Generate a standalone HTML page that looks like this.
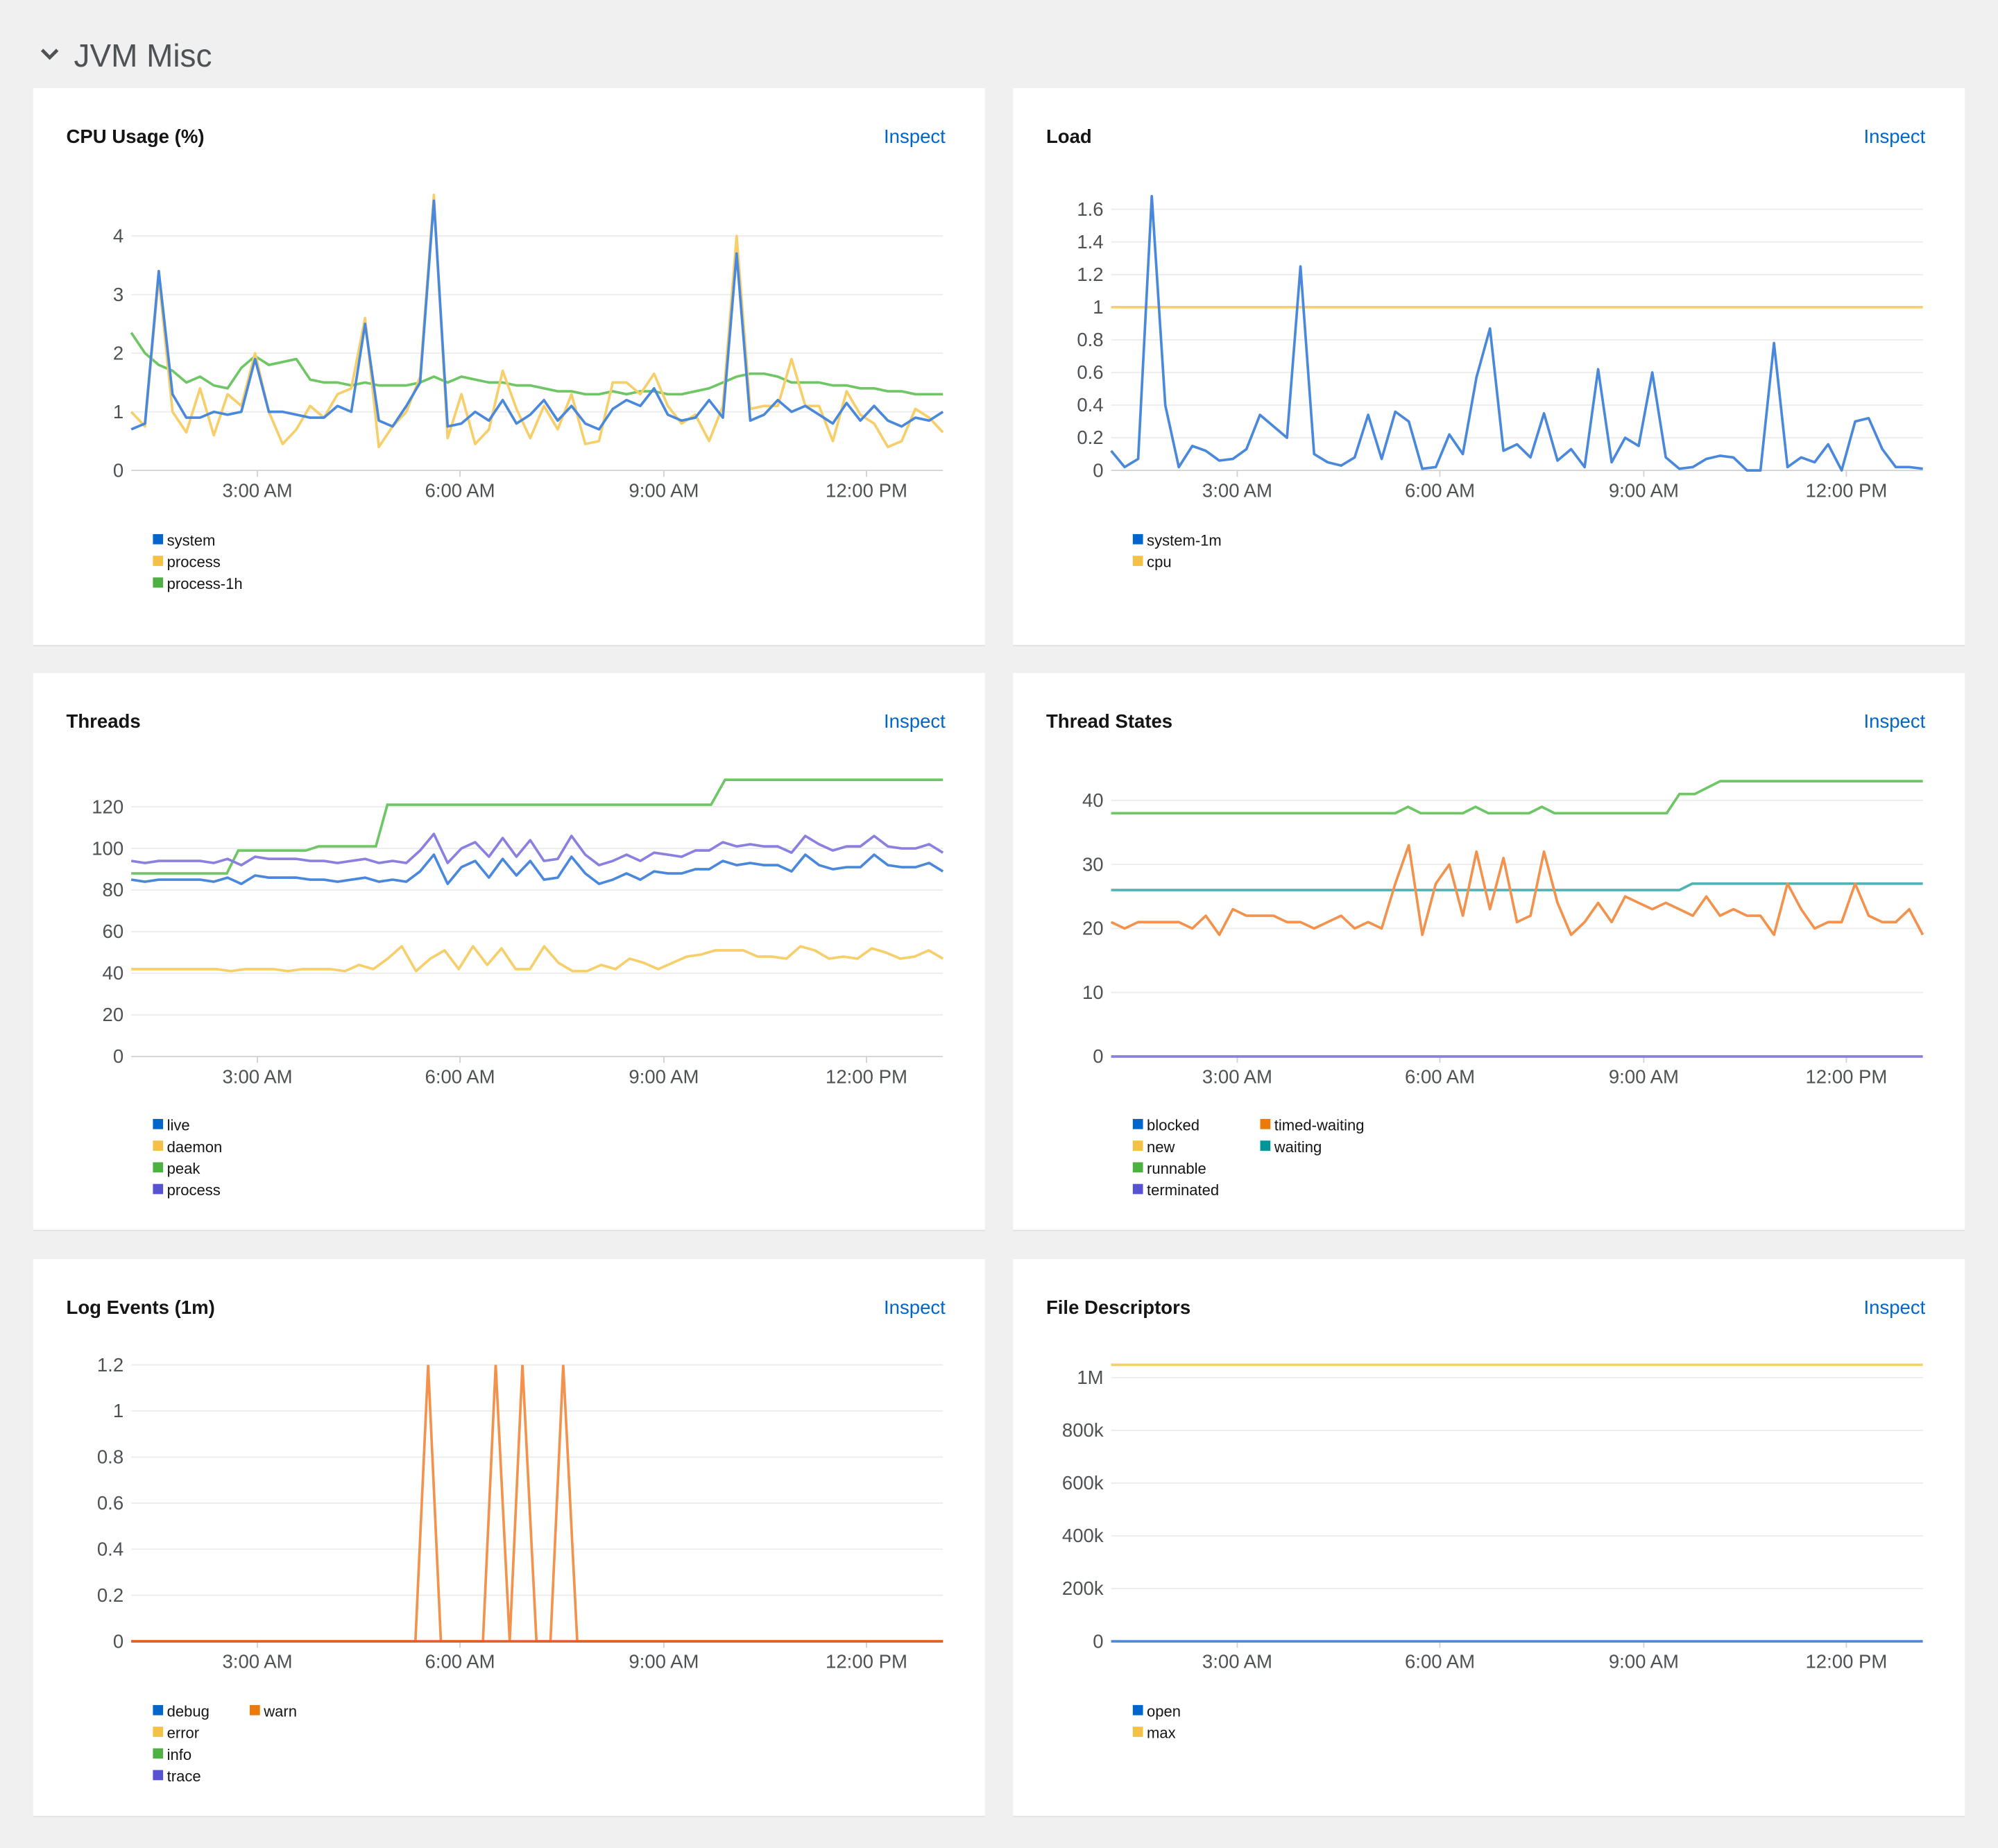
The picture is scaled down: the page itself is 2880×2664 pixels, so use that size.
<!DOCTYPE html>
<html><head><meta charset="utf-8">
<style>
html,body{margin:0;padding:0;background:#f0f0f0;}
svg{display:block;}
text{font-family:"Liberation Sans",sans-serif;}
</style></head>
<body>
<svg id="s" width="2880" height="2664" viewBox="0 0 1568 1450" xmlns="http://www.w3.org/2000/svg">
<rect width="1568" height="1450" fill="#f0f0f0"/>
<path d="M33 39 L39 45 L45 39" stroke="#4f5255" stroke-width="2.6" fill="none"/>
<text x="58" y="52" font-size="25" fill="#4f5255">JVM Misc</text>
<g id="g"></g>
</svg>
<script>
var g=document.getElementById('g'),h='';
function card(x,y,title){
 h+='<rect x="'+(x)+'" y="'+(y+1)+'" width="747" height="437" fill="#e0e0e0"/>';
 h+='<rect x="'+x+'" y="'+y+'" width="747" height="437" fill="#fff"/>';
 h+='<text x="'+(x+26)+'" y="'+(y+43)+'" font-size="15" font-weight="bold" fill="#151515">'+title+'</text>';
 h+='<text x="'+(x+716)+'" y="'+(y+43)+'" font-size="15" fill="#0066cc" text-anchor="end">Inspect</text>';
}
function axes(px,y0,unit,ticks,fmt){
 var x1=px,x2=px+637;
 ticks.forEach(function(t){var y=y0-t*unit;
  h+='<line x1="'+x1+'" x2="'+x2+'" y1="'+y+'" y2="'+y+'" stroke="'+(t==0?'#d2d2d2':'#ececec')+'" stroke-width="1"/>';
  h+='<text x="'+(x1-6)+'" y="'+(y+5)+'" font-size="15" fill="#4f5255" text-anchor="end">'+fmt(t)+'</text>';});
 [['3:00 AM',99],['6:00 AM',258],['9:00 AM',418],['12:00 PM',577]].forEach(function(l){
  h+='<line x1="'+(px+l[1])+'" x2="'+(px+l[1])+'" y1="'+y0+'" y2="'+(y0+5)+'" stroke="#d2d2d2"/>';
  h+='<text x="'+(px+l[1])+'" y="'+(y0+21)+'" font-size="15" fill="#4f5255" text-anchor="middle">'+l[0]+'</text>';});
}
function series(px,y0,unit,vals,col){
 var n=vals.length,p=[];
 for(var i=0;i<n;i++)p.push((px+i*637/(n-1)).toFixed(1)+','+(y0-vals[i]*unit).toFixed(1));
 h+='<polyline points="'+p.join(' ')+'" fill="none" stroke="'+col+'" stroke-width="2" stroke-linejoin="round"/>';
}
function pts(list,y0,unit,col){
 h+='<polyline points="'+list.map(function(a){return a[0]+','+(y0-a[1]*unit)}).join(' ')+'" fill="none" stroke="'+col+'" stroke-width="2"/>';
}
function legend(x,y,items){
 items.forEach(function(it,i){var yy=y+i*17;
  h+='<rect x="'+x+'" y="'+(yy-9)+'" width="8" height="8" fill="'+it[1]+'"/>';
  h+='<text x="'+(x+11)+'" y="'+yy+'" font-size="12" fill="#151515">'+it[0]+'</text>';});
}
var B='#06c',Y='#f4c145',G='#4cb140',P='#5752d1',O='#ec7a08',T='#009596';
var lb='#4a88dc',ly='#f7cf6a',lg='#6ec664',lp='#8a80e0',lo='#f2924c',lt='#4fb3b3';
function f(t){return (Math.round(t*10)/10).toString();}
// CPU
card(26,69,'CPU Usage (%)');
axes(103,369,46,[0,1,2,3,4],f);
series(103,369,46,[2.35,2.0,1.8,1.7,1.5,1.6,1.45,1.4,1.75,1.95,1.8,1.85,1.9,1.55,1.5,1.5,1.45,1.5,1.45,1.45,1.45,1.5,1.6,1.5,1.6,1.55,1.5,1.5,1.45,1.45,1.4,1.35,1.35,1.3,1.3,1.35,1.3,1.35,1.35,1.3,1.3,1.35,1.4,1.5,1.6,1.65,1.65,1.6,1.5,1.5,1.5,1.45,1.45,1.4,1.4,1.35,1.35,1.3,1.3,1.3],lg);
series(103,369,46,[1.0,0.75,3.3,1.0,0.65,1.4,0.6,1.3,1.1,2.0,1.0,0.45,0.7,1.1,0.9,1.3,1.4,2.6,0.4,0.75,1.0,1.6,4.7,0.55,1.3,0.45,0.7,1.7,1.05,0.55,1.1,0.7,1.3,0.45,0.5,1.5,1.5,1.3,1.65,1.1,0.8,0.95,0.5,1.1,4.0,1.05,1.1,1.1,1.9,1.1,1.1,0.5,1.35,0.95,0.8,0.4,0.5,1.05,0.9,0.65],ly);
series(103,369,46,[0.7,0.8,3.4,1.3,0.9,0.9,1.0,0.95,1.0,1.9,1.0,1.0,0.95,0.9,0.9,1.1,1.0,2.5,0.85,0.75,1.1,1.5,4.6,0.75,0.8,1.0,0.85,1.2,0.8,0.95,1.2,0.85,1.1,0.8,0.7,1.05,1.2,1.1,1.4,0.95,0.85,0.9,1.2,0.9,3.7,0.85,0.95,1.2,1.0,1.1,0.95,0.8,1.15,0.85,1.1,0.85,0.75,0.9,0.85,1.0],lb);
legend(120,428,[['system',B],['process',Y],['process-1h',G]]);
// Load
card(795,69,'Load');
axes(872,369,128.1,[0,0.2,0.4,0.6,0.8,1,1.2,1.4,1.6],f);
series(872,369,128.1,[1,1],ly);
series(872,369,128.1,[0.12,0.02,0.07,1.68,0.4,0.02,0.15,0.12,0.06,0.07,0.13,0.34,0.27,0.2,1.25,0.1,0.05,0.03,0.08,0.34,0.07,0.36,0.3,0.01,0.02,0.22,0.1,0.57,0.87,0.12,0.16,0.08,0.35,0.06,0.13,0.02,0.62,0.05,0.2,0.15,0.6,0.08,0.01,0.02,0.07,0.09,0.08,0.0,0.0,0.78,0.02,0.08,0.05,0.16,0.0,0.3,0.32,0.13,0.02,0.02,0.01],lb);
legend(889,428,[['system-1m',B],['cpu',Y]]);
// Threads
card(26,528,'Threads');
axes(103,829,1.633,[0,20,40,60,80,100,120],f);
pts([[103,88],[178,88],[187,99],[240,99],[250,101],[295,101],[304,121],[558,121],[569,133],[740,133]],829,1.633,lg);
series(103,829,1.633,[42,42,42,42,42,42,42,41,42,42,42,41,42,42,42,41,44,42,47,53,41,47,51,42,53,44,52,42,42,53,45,41,41,44,42,47,45,42,45,48,49,51,51,51,48,48,47,53,51,47,48,47,52,50,47,48,51,47],ly);
series(103,829,1.633,[94,93,94,94,94,94,93,95,92,96,95,95,95,94,94,93,94,95,93,94,93,99,107,93,100,103,96,105,96,104,94,95,106,97,92,94,97,94,98,97,96,99,99,103,101,102,101,101,98,106,102,99,101,101,106,101,100,100,102,98],lp);
series(103,829,1.633,[85,84,85,85,85,85,84,86,83,87,86,86,86,85,85,84,85,86,84,85,84,89,97,83,91,94,86,95,87,94,85,86,96,88,83,85,88,85,89,88,88,90,90,94,92,93,92,92,89,97,92,90,91,91,97,92,91,91,93,89],lb);
legend(120,887,[['live',B],['daemon',Y],['peak',G],['process',P]]);
// Thread States
card(795,528,'Thread States');
axes(872,829,5.025,[0,10,20,30,40],f);
pts([[872,38],[1095,38],[1105,39],[1115,38],[1148,38],[1158,39],[1168,38],[1200,38],[1210,39],[1220,38],[1308,38],[1318,41],[1330,41],[1350,43],[1509,43]],829,5.025,lg);
pts([[872,26],[1318,26],[1328,27],[1509,27]],829,5.025,lt);
series(872,829,5.025,[21,20,21,21,21,21,20,22,19,23,22,22,22,21,21,20,21,22,20,21,20,27,33,19,27,30,22,32,23,31,21,22,32,24,19,21,24,21,25,24,23,24,23,22,25,22,23,22,22,19,27,23,20,21,21,27,22,21,21,23,19],lo);
pts([[872,0],[1509,0]],829,5.025,lp);
legend(889,887,[['blocked',B],['new',Y],['runnable',G],['terminated',P]]);
legend(989,887,[['timed-waiting',O],['waiting',T]]);
// Log events
card(26,988,'Log Events (1m)');
axes(103,1288,180.8,[0,0.2,0.4,0.6,0.8,1,1.2],f);
pts([[103,0],[326,0],[336,1.2],[346,0],[379,0],[389,1.2],[400,0],[410,1.2],[421,0],[432,0],[442,1.2],[453,0],[740,0]],1288,180.8,lo);
pts([[103,0],[740,0]],1288,180.8,'#e0602a');
legend(120,1347,[['debug',B],['error',Y],['info',G],['trace',P]]);
legend(196,1347,[['warn',O]]);
// File descriptors
card(795,988,'File Descriptors');
axes(872,1288,0.000207,[0,200000,400000,600000,800000,1000000],function(t){return t==0?'0':t==1000000?'1M':(t/1000)+'k';});
pts([[872,1048576],[1509,1048576]],1288,0.000207,ly);
pts([[872,0],[1509,0]],1288,0.000207,lb);
legend(889,1347,[['open',B],['max',Y]]);
g.innerHTML=h;
</script>
</body></html>
